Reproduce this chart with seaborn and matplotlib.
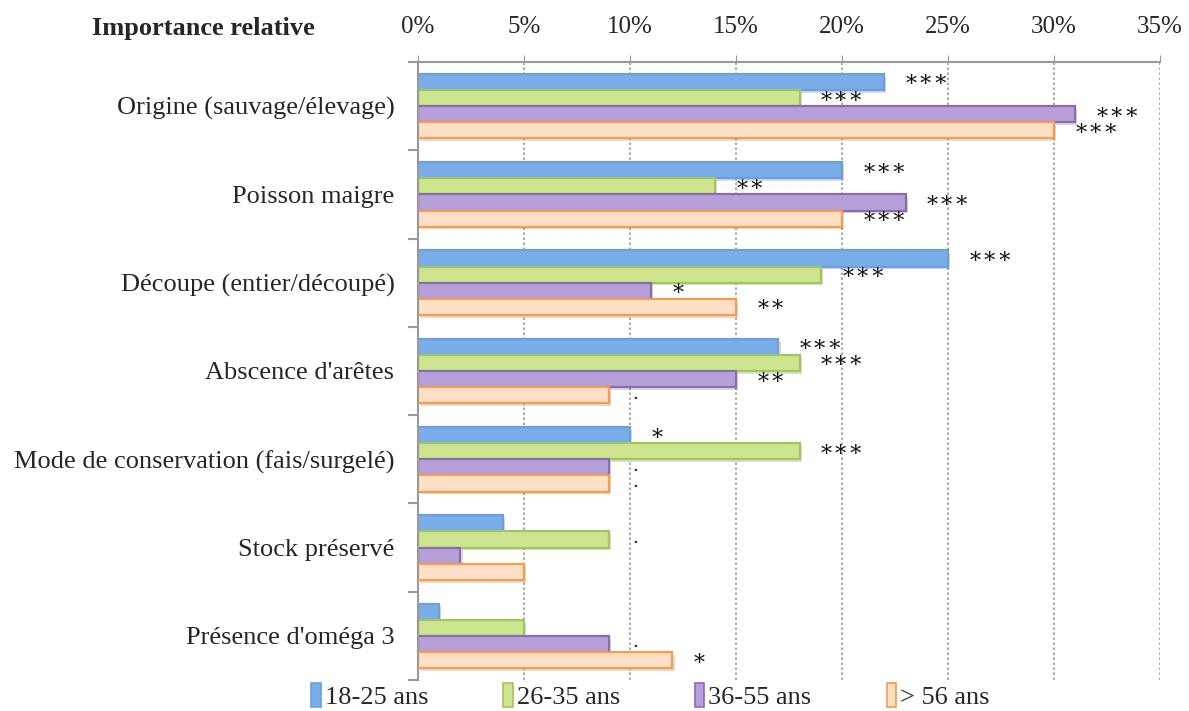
import pandas as pd
import matplotlib.pyplot as plt
import matplotlib.ticker as mticker
import matplotlib.patheffects as pe
import seaborn as sns

# Data
categories = ["Origine (sauvage/élevage)", "Poisson maigre", "Découpe (entier/découpé)",
              "Abscence d'arêtes", "Mode de conservation (fais/surgelé)",
              "Stock préservé", "Présence d'oméga 3"]
groups = ["18-25 ans", "26-35 ans", "36-55 ans", "> 56 ans"]

v_18_25 = [22, 20, 25, 17, 10, 4, 1]
v_26_35 = [18, 14, 19, 18, 18, 9, 5]
v_36_55 = [31, 23, 11, 15, 9, 2, 9]
v_56 = [30, 20, 15, 9, 9, 5, 12]

sig_18_25 = ["***", "***", "***", "***", "*", "", ""]
sig_26_35 = ["***", "**", "***", "***", "***", ".", ""]
sig_36_55 = ["***", "***", "*", "**", ".", "", "."]
sig_56 = ["***", "***", "**", ".", ".", "", "*"]

values = [v_18_25, v_26_35, v_36_55, v_56]
sigs = [sig_18_25, sig_26_35, sig_36_55, sig_56]

fills = ["#79ADE8", "#CDE58E", "#B7A0D9", "#FFE0C6"]
edges = ["#6C9FDB", "#A3C45E", "#8A6CB3", "#F79B4C"]

rows = []
for g, vals in zip(groups, values):
    for c, v in zip(categories, vals):
        rows.append({"cat": c, "group": g, "val": v})
df = pd.DataFrame(rows)

sns.set_style("white")
serif = ["Liberation Serif", "DejaVu Serif"]
plt.rcParams["font.family"] = serif

fig = plt.figure(figsize=(11.89, 7.11), dpi=100)
ax = fig.add_axes([0.3516, 0.0436, 0.6240, 0.8692])

sns.barplot(data=df, y="cat", x="val", hue="group", order=categories,
            hue_order=groups, palette=fills, width=0.73, orient="h",
            legend=False, ax=ax, saturation=1)

shadow = [pe.SimplePatchShadow(offset=(1.5, -2), alpha=0.18), pe.Normal()]
for cont, ec, lab in zip(ax.containers, edges, sigs):
    for bar in cont:
        bar.set_edgecolor(ec)
        bar.set_linewidth(1.6)
        bar.set_path_effects(shadow)
    stars = [s.replace("*", "\u2217") if "*" in s else "" for s in lab]
    dots = [s if s == "." else "" for s in lab]
    ax.bar_label(cont, labels=stars, padding=14, fontsize=16, color="#111111",
                 family=serif)
    ax.bar_label(cont, labels=dots, padding=18, fontsize=11, color="#111111",
                 fontweight="bold", family=serif)

ax.set_xlim(0, 35)
ax.set_ylim(6.5, -0.5)
ax.xaxis.tick_top()
ax.xaxis.set_major_locator(mticker.MultipleLocator(5))
ax.xaxis.set_major_formatter(mticker.FuncFormatter(lambda x, p: f"{x:.0f}%"))
ax.tick_params(axis="x", labelsize=18, length=5, color="#999999", pad=12,
               direction="out")
ax.grid(axis="x", linestyle=(0, (1.5, 1.5)), color="#9a9a9a", linewidth=1.2)
ax.set_axisbelow(True)

ax.set_yticks(range(len(categories)))
ax.set_yticklabels(categories)
ax.set_yticks([i - 0.5 for i in range(len(categories) + 1)], minor=True)
ax.tick_params(axis="y", which="major", length=0, labelsize=19, pad=17)
ax.tick_params(axis="y", which="minor", length=7, color="#999999", width=1.5,
               left=True)
ax.set_xlabel("")
ax.set_ylabel("")

for s in ["right", "bottom"]:
    ax.spines[s].set_visible(False)
ax.spines["left"].set_color("#999999")
ax.spines["left"].set_linewidth(1.5)
ax.spines["top"].set_color("#999999")
ax.spines["top"].set_linewidth(1.5)

fig.text(0.265, 0.96, "Importance relative", ha="right", va="center",
         fontsize=19, fontweight="bold")

handles = [plt.Rectangle((0, 0), 1, 1, facecolor=f, edgecolor=e, linewidth=1.2)
           for f, e in zip(fills, edges)]
fig.legend(handles, groups, loc="center", bbox_to_anchor=(0.547, 0.021), ncol=4,
           frameon=False, fontsize=19, handlelength=0.35, handleheight=1.0,
           handletextpad=0.15, columnspacing=2.85)

fig.savefig("out.png", dpi=100)
